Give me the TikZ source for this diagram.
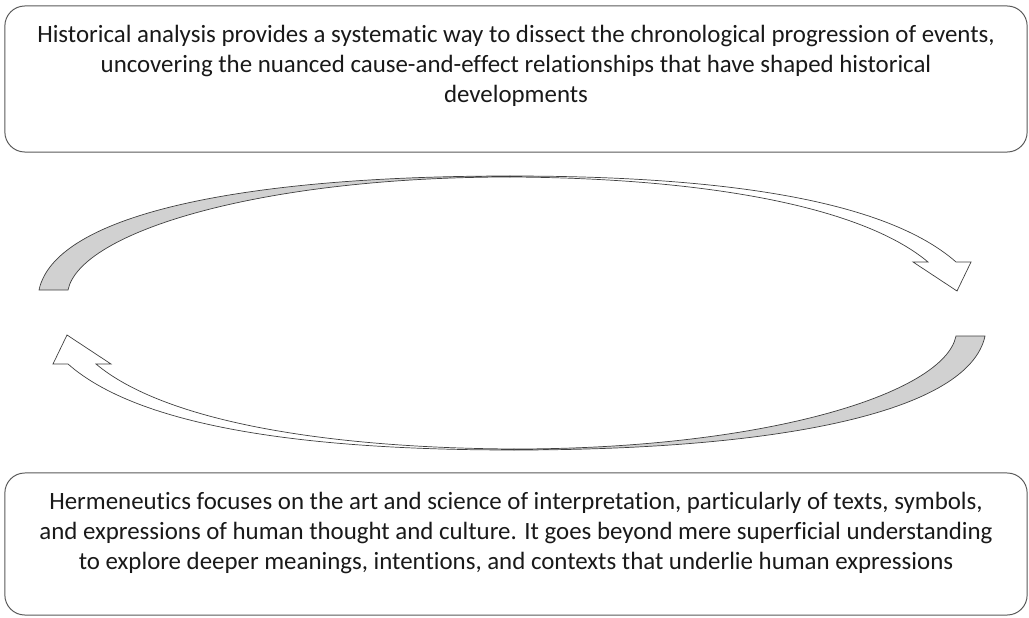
\documentclass[tikz,border=0pt]{standalone}
\usepackage{fontspec}
\setmainfont{Carlito}[Ligatures=NoCommon]
\usetikzlibrary{positioning, calc}

\begin{document}
\begin{tikzpicture}[
        x = 0.025cm,
        y = -0.025cm,
        line width = 0.7pt,
        panel/.style = {
            draw = black!65,
            rectangle,
            rounded corners = 0.5cm,
            minimum width = 25.55cm,
            inner sep = 0pt
        },
        caption/.style = {
            align = center,
            inner sep = 0pt,
            font = \fontsize{17.7}{21.3}\selectfont,
            text = black!90
        },
        backface/.style = {draw = black!75, fill = black!18, line width = 0.5pt},
        frontface/.style = {draw = black!75, fill = white, line width = 0.5pt}
    ]

    \useasboundingbox (0,0) rectangle (1029,617);

    \node[panel, minimum height = 3.65cm] (histbox) at (516,79) {};
    \node[caption] (histtext) at ([yshift=0.33cm]histbox.center)
        {Historical analysis provides a systematic way to dissect the chronological progression of events,\\
         uncovering the nuanced cause-and-effect relationships that have shaped historical\\
         developments};

    \node[panel, minimum height = 3.55cm] (hermbox) at (516,544) {};
    \node[caption] (hermtext) at ([yshift=0.27cm]hermbox.center)
        {Hermeneutics focuses on the art and science of interpretation, particularly of texts, symbols,\\
         and expressions of human thought and culture. It goes beyond mere superficial understanding\\
         to explore deeper meanings, intentions, and contexts that underlie human expressions};

    % upper arrow, shaded tail on the left, open head on the right
    \coordinate (apexout) at (510,176);
    \coordinate (apexin) at (510,177);
    \filldraw[backface] (39,290) .. controls (55,215) and (240,176) .. (apexout)
        -- (apexin) .. controls (260,177) and (80,232) .. (68,290) -- cycle;
    \filldraw[frontface] (apexout) .. controls (700,176) and (880,195) .. (956,262)
        -- (971,262) -- (957,291) -- (913,262) -- (928,262)
        .. controls (860,205) and (700,178) .. (apexin) -- cycle;

    % lower arrow, the same shape turned half round
    \begin{scope}[rotate around={180:(512,313)}]
        \filldraw[backface] (39,290) .. controls (55,215) and (240,176) .. (510,176)
            -- (510,177) .. controls (260,177) and (80,232) .. (68,290) -- cycle;
        \filldraw[frontface] (510,176) .. controls (700,176) and (880,195) .. (956,262)
            -- (971,262) -- (957,291) -- (913,262) -- (928,262)
            .. controls (860,205) and (700,178) .. (510,177) -- cycle;
    \end{scope}

\end{tikzpicture}
\end{document}
